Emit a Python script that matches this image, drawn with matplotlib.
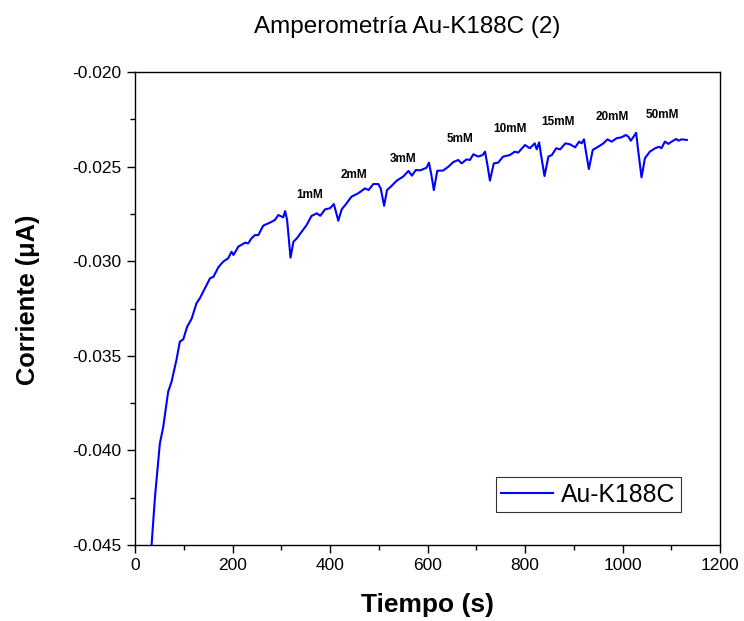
import matplotlib
matplotlib.use("Agg")
import matplotlib.pyplot as plt
from matplotlib.ticker import MultipleLocator, FormatStrFormatter

plt.rcParams['font.family'] = ['Liberation Sans', 'DejaVu Sans']
plt.rcParams['axes.unicode_minus'] = False

time_s = [34, 41, 51, 58, 68, 75, 85, 92, 99, 107, 116, 126, 133, 140, 154, 161, 171, 181, 191, 198,
          202, 212, 226, 232, 239, 246, 253, 263, 277, 287, 294, 304, 308, 312, 319, 325, 332, 342,
          352, 362, 373, 380, 390, 400, 408, 412, 417, 424, 434, 444, 458, 472, 479, 489, 499, 504,
          511, 517, 526, 537, 550, 561, 568, 576, 585, 598, 603, 608, 613, 620, 632, 643, 653, 663,
          670, 680, 687, 694, 704, 713, 718, 723, 728, 736, 745, 755, 769, 779, 786, 800, 810, 820,
          824, 829, 834, 840, 848, 855, 864, 872, 883, 892, 903, 911, 916, 921, 925, 931, 939, 950,
          961, 969, 978, 988, 998, 1007, 1012, 1017, 1022, 1028, 1032, 1039, 1046, 1056, 1067, 1075,
          1080, 1087, 1094, 1101, 1110, 1115, 1121, 1132]
current_uA = [-0.0450, -0.04245, -0.03963, -0.03875, -0.0369, -0.03637, -0.03522, -0.03425, -0.03413,
              -0.03346, -0.03305, -0.03223, -0.03196, -0.03161, -0.0309, -0.03082, -0.03032, -0.03002,
              -0.02985, -0.0295, -0.02967, -0.02923, -0.02902, -0.02906, -0.02879, -0.02862, -0.02862,
              -0.02812, -0.02796, -0.02782, -0.02756, -0.02768, -0.02735, -0.02782, -0.02981, -0.02897,
              -0.02879, -0.02844, -0.02809, -0.02761, -0.02747, -0.0276, -0.02726, -0.0272, -0.02698,
              -0.02738, -0.02786, -0.02726, -0.02694, -0.02659, -0.02641, -0.02615, -0.02624, -0.02592,
              -0.02592, -0.02615, -0.02707, -0.02624, -0.02603, -0.02574, -0.02553, -0.02523, -0.02548,
              -0.02518, -0.0252, -0.02506, -0.02479, -0.02545, -0.02624, -0.02522, -0.02521, -0.025,
              -0.02476, -0.02465, -0.02483, -0.02462, -0.02465, -0.02435, -0.02447, -0.02439, -0.02421,
              -0.02492, -0.02574, -0.02483, -0.02479, -0.02447, -0.02439, -0.02421, -0.02426, -0.02386,
              -0.02403, -0.02377, -0.02409, -0.02372, -0.02456, -0.0255, -0.02447, -0.02439, -0.02403,
              -0.02409, -0.02377, -0.02382, -0.02398, -0.02368, -0.02377, -0.02356, -0.02421, -0.02513,
              -0.02412, -0.02395, -0.02377, -0.02356, -0.02368, -0.0235, -0.02345, -0.02333, -0.02342,
              -0.02363, -0.02345, -0.02321, -0.02412, -0.02557, -0.02456, -0.02421, -0.02403, -0.02395,
              -0.02403, -0.02368, -0.0238, -0.02368, -0.02354, -0.02363, -0.02356, -0.02359]

labels = ['1mM', '2mM', '3mM', '5mM', '10mM', '15mM', '20mM', '50mM']
label_x = [359, 450, 550, 667, 769, 868, 979, 1082]
label_y = [-0.0265, -0.02544, -0.0246, -0.02354, -0.02301, -0.02264, -0.02236, -0.02225]

fig = plt.figure(figsize=(7.44, 6.21), dpi=100)
ax = fig.add_axes([135/744, 1 - 545/621, (720 - 135)/744, (545 - 72)/621])

ax.plot(time_s, current_uA, color='#0000ff', lw=1.5, label='Au-K188C')

for t, x, y in zip(labels, label_x, label_y):
    ax.text(x, y, t, fontsize=8.5, fontweight='bold', ha='center', va='center')

ax.set_xlim(0, 1200)
ax.set_ylim(-0.045, -0.020)
ax.xaxis.set_major_locator(MultipleLocator(200))
ax.xaxis.set_minor_locator(MultipleLocator(100))
ax.yaxis.set_major_locator(MultipleLocator(0.005))
ax.yaxis.set_minor_locator(MultipleLocator(0.0025))
ax.yaxis.set_major_formatter(FormatStrFormatter('%.3f'))
ax.tick_params(which='major', direction='out', length=6, width=1, labelsize=12.5)
ax.tick_params(which='minor', direction='out', length=3.5, width=1)
for s in ax.spines.values():
    s.set_linewidth(1.0)

ax.set_xlabel('Tiempo (s)', fontsize=19, fontweight='bold', labelpad=14)
ax.set_ylabel('Corriente (\u03bcA)', fontsize=18.3, fontweight='bold')
ax.yaxis.set_label_coords(-0.163, 0.518)
fig.text(407.5 / 744, 1 - 33 / 621, 'Amperometría Au-K188C (2)', fontsize=17.5,
         ha='center', va='baseline')

leg = ax.legend(loc='lower right', bbox_to_anchor=(681/744, 1 - 512/621), bbox_transform=fig.transFigure,
                fontsize=17.8, frameon=True, fancybox=False, edgecolor='black', handlelength=2.1,
                borderpad=0.22, borderaxespad=0, handletextpad=0.32)
leg.get_frame().set_linewidth(0.8)

fig.savefig('out.png', dpi=100)
